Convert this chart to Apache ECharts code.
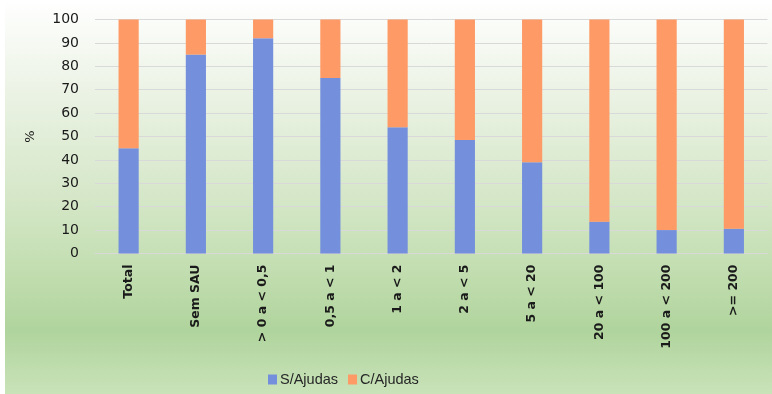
<!DOCTYPE html>
<html>
<head>
<meta charset="utf-8">
<script src="https://cdn.jsdelivr.net/npm/echarts@6/dist/echarts.min.js"></script>
<style>
  html, body { margin: 0; padding: 0; background: #ffffff; }
  #chart { width: 772px; height: 394px; }
</style>
</head>
<body>
<div id="chart"></div>
<script>
// Area classes (SAU, ha) and share of holdings with / without support (%)
const categories = ['Total', 'Sem SAU', '> 0 a < 0,5', '0,5 a < 1', '1 a < 2', '2 a < 5', '5 a < 20', '20 a < 100', '100 a < 200', '>= 200'];
const semAjudas = [45, 85, 92, 75, 54, 48.5, 39, 13.6, 10, 10.6];
const comAjudas = semAjudas.map(v => +(100 - v).toFixed(1));
const yTicks = [0, 10, 20, 30, 40, 50, 60, 70, 80, 90, 100];

const chart = echarts.init(document.getElementById('chart'), null, { renderer: 'canvas' });

chart.setOption({
  animation: false,
  graphic: [{
    type: 'rect',
    z: -10,
    silent: true,
    shape: { x: 5, y: 0, width: 767, height: 394 },
    style: {
      fill: new echarts.graphic.LinearGradient(0, 0, 0, 1, [
        { offset: 0, color: '#ffffff' },
        { offset: 0.25, color: '#eaf2e3' },
        { offset: 0.5, color: '#d5e7c8' },
        { offset: 0.68, color: '#c3deb1' },
        { offset: 0.84, color: '#b0d49d' },
        { offset: 1, color: '#c9e3b9' }
      ])
    }
  }],
  grid: { left: 95, right: 4.5, top: 19.5, bottom: 140.5, containLabel: false },
  legend: {
    left: 263,
    top: 367,
    itemWidth: 9,
    itemHeight: 10,
    itemGap: 10,
    icon: 'rect',
    textStyle: { fontFamily: 'Liberation Sans, sans-serif', fontSize: 14.5, color: '#262626', padding: [0, 0, 0, -2] },
    data: ['S/Ajudas', 'C/Ajudas']
  },
  xAxis: {
    type: 'category',
    data: categories,
    axisLine: { show: true, lineStyle: { color: '#d9d9d9', width: 1 } },
    axisTick: { show: false },
    axisLabel: {
      rotate: 90,
      margin: 11,
      interval: 0,
      fontFamily: 'DejaVu Sans, sans-serif',
      fontWeight: 'bold',
      fontSize: 12.5,
      color: '#1a1a1a'
    }
  },
  yAxis: {
    type: 'value',
    min: yTicks[0],
    max: yTicks[yTicks.length - 1],
    interval: 10,
    name: '%',
    nameLocation: 'middle',
    nameGap: 58,
    nameRotate: 90,
    nameTextStyle: { fontFamily: 'DejaVu Sans, sans-serif', fontSize: 13, color: '#1a1a1a' },
    axisLine: { show: false },
    axisTick: { show: false },
    axisLabel: {
      margin: 16,
      fontFamily: 'DejaVu Sans, sans-serif',
      fontSize: 14,
      color: '#1a1a1a'
    },
    splitLine: { lineStyle: { color: '#d9d9d9', width: 1 } }
  },
  series: [
    {
      name: 'S/Ajudas',
      type: 'bar',
      stack: 'total',
      barWidth: '30%',
      itemStyle: { color: '#7490dc' },
      data: semAjudas
    },
    {
      name: 'C/Ajudas',
      type: 'bar',
      stack: 'total',
      barWidth: '30%',
      itemStyle: { color: '#fe9a66' },
      data: comAjudas
    }
  ]
});
</script>
</body>
</html>
